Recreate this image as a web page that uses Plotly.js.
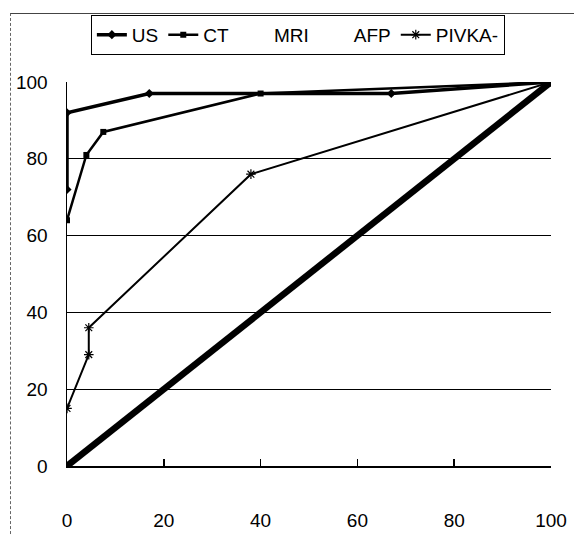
<!DOCTYPE html>
<html>
<head>
<meta charset="utf-8">
<script src="https://cdn.plot.ly/plotly-3.0.1.min.js"></script>
<style>
  html, body { margin: 0; padding: 0; background: #fff; }
  #wrap { position: relative; width: 574px; height: 536px; }
  #chart { width: 574px; height: 536px; }
  #frame { position: absolute; left: 10px; top: 13px; width: 570px; height: 530px;
           border-left: 1px dashed #666; border-top: 1px solid #444; pointer-events: none; }
</style>
</head>
<body>
<div id="wrap">
  <div id="chart"></div>
  <div id="frame"></div>
</div>
<script>
// Series data
const usX = [0, 0, 17, 67, 100];
const usY = [72, 92, 97, 97, 100];
const ctX = [0, 4, 7.5, 40, 100];
const ctY = [64, 81, 87, 97, 100];
const mriX = [null];
const mriY = [null];
const afpX = [null];
const afpY = [null];
const pivkaX = [0, 4.5, 4.5, 38, 100];
const pivkaY = [15, 29, 36, 76, 100];
const refX = [0, 100];
const refY = [0, 100];
const tickVals = [0, 20, 40, 60, 80, 100];

const traces = [
  {x: usX, y: usY, name: 'US', mode: 'lines+markers',
   line: {color: '#000', width: 3.5}, marker: {symbol: 'diamond', size: 7, color: '#000'}},
  {x: ctX, y: ctY, name: 'CT', mode: 'lines+markers',
   line: {color: '#000', width: 2.5}, marker: {symbol: 'square', size: 6, color: '#000'}},
  {x: mriX, y: mriY, name: 'MRI', mode: 'lines',
   line: {color: 'rgba(0,0,0,0)', width: 1}},
  {x: afpX, y: afpY, name: 'AFP', mode: 'lines',
   line: {color: 'rgba(0,0,0,0)', width: 1}},
  {x: pivkaX, y: pivkaY, name: 'PIVKA-', mode: 'lines+markers',
   line: {color: '#000', width: 2}, marker: {symbol: 'asterisk-open', size: 8, color: '#000', line: {width: 1.2, color: '#000'}}},
  {x: refX, y: refY, name: 'ref', mode: 'lines', showlegend: false,
   line: {color: '#000', width: 6.5}}
];

const layout = {
  width: 574, height: 536,
  margin: {l: 67, r: 23, t: 82, b: 70},
  paper_bgcolor: '#fff', plot_bgcolor: '#fff',
  font: {family: 'Liberation Sans, Arial, sans-serif', color: '#000', size: 19},
  showlegend: true,
  legend: {orientation: 'h', x: 0.477, xanchor: 'center', y: 1.175, yanchor: 'top',
           bordercolor: '#000', borderwidth: 1, bgcolor: '#fff',
           font: {size: 19}, itemwidth: 30, tracegroupgap: 0},
  xaxis: {range: [0, 100], tickvals: tickVals, ticktext: tickVals.map(String),
          showgrid: false, zeroline: false, showline: true, linecolor: '#000', linewidth: 1.5,
          ticks: 'inside', ticklen: 7, tickcolor: '#000', tickwidth: 1.5,
          ticklabelstandoff: 37, tickfont: {size: 19}, fixedrange: true},
  yaxis: {range: [0, 100], tickvals: tickVals, ticktext: tickVals.map(String),
          showgrid: true, gridcolor: '#000', gridwidth: 1.3, zeroline: false,
          showline: true, linecolor: '#000', linewidth: 1.5, ticks: '',
          ticklabelstandoff: 14, tickfont: {size: 19}, fixedrange: true}
};

Plotly.newPlot('chart', traces, layout, {displayModeBar: false, staticPlot: true});
</script>
</body>
</html>
